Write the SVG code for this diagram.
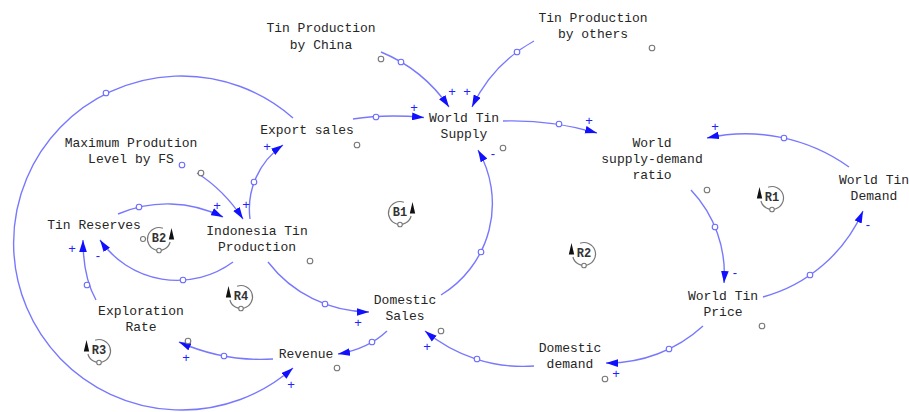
<svg xmlns="http://www.w3.org/2000/svg" width="909" height="412" viewBox="0 0 909 412">
<defs>
<style>
.t{font-family:"Liberation Mono","DejaVu Sans Mono",monospace;font-size:13px;fill:#262626;text-anchor:middle}
.c{fill:none;stroke:#7878ff;stroke-width:1.4;marker-end:url(#ah)}
.h{fill:#fff;stroke:#6b6bff;stroke-width:1.1}
.g{fill:#fff;stroke:#777;stroke-width:1.1}
.s{font-family:"Liberation Sans",Arial,sans-serif;font-size:13px;fill:#2222ff;text-anchor:middle}
.l{font-family:"Liberation Mono","DejaVu Sans Mono",monospace;font-size:12px;font-weight:bold;fill:#333;text-anchor:middle}
.la{fill:none;stroke:#777;stroke-width:1.2}
</style>
<marker id="ah" markerUnits="userSpaceOnUse" markerWidth="12" markerHeight="8" refX="11" refY="3.5" orient="auto" viewBox="0 0 11 7"><path d="M0,0 L11,3.5 L0,7 Z" fill="#1010ff"/></marker>
<g id="loopL">
<path class="la" d="M-11.1,3 A11.5,11.5 0 1 0 -3.9,-10.8"/>
<circle class="g" cx="0" cy="11.5" r="2.3"/>
<polygon points="-15.2,0.5 -9.8,0.5 -12.5,-11" fill="#111"/>
</g>
</defs>
<rect width="909" height="412" fill="#fff"/>

<g id="connectors">
<path class="c" d="M381,52 A153,153 0 0 1 449,107"/>
<path class="c" d="M534,41 A148,148 0 0 0 472,107"/>
<path class="c" d="M353,119 Q385,114 424,117.5"/>
<path class="c" d="M503,121 A302,302 0 0 1 597,133"/>
<path class="c" d="M441,295 A107,107 0 0 0 478,150"/>
<path class="c" d="M849,167 A178,178 0 0 0 707,138"/>
<path class="c" d="M691,190 A122,122 0 0 1 724,283"/>
<path class="c" d="M763,297 A153,153 0 0 0 863,211"/>
<path class="c" d="M703,326 A141,141 0 0 1 606,363"/>
<path class="c" d="M534,366 A153.5,153.5 0 0 1 425,331"/>
<path class="c" d="M387,331 Q368,349 338,354"/>
<path class="c" d="M273,359 A201,201 0 0 1 179,342"/>
<path class="c" d="M268,262 A128,128 0 0 0 369,312"/>
<path class="c" d="M233,262 A94,94 0 0 1 100,240"/>
<path class="c" d="M96,300 Q83,277 83,240"/>
<path class="c" d="M118,214 A125,125 0 0 1 223,217"/>
<path class="c" d="M197,173 Q224,190 243,219"/>
<path class="c" d="M250,219 A78,78 0 0 1 283,145"/>
<path class="c" d="M293,118 A168,167 0 1 0 293,368"/>
<circle class="h" cx="401" cy="62" r="2.8"/>
<circle class="h" cx="517" cy="52" r="2.8"/>
<circle class="h" cx="376" cy="117" r="2.8"/>
<circle class="h" cx="559" cy="124" r="2.8"/>
<circle class="h" cx="481" cy="252" r="2.8"/>
<circle class="h" cx="784" cy="138" r="2.8"/>
<circle class="h" cx="715" cy="227" r="2.8"/>
<circle class="h" cx="810" cy="275" r="2.8"/>
<circle class="h" cx="669" cy="349" r="2.8"/>
<circle class="h" cx="477" cy="359" r="2.8"/>
<circle class="h" cx="372" cy="342" r="2.8"/>
<circle class="h" cx="224" cy="356" r="2.8"/>
<circle class="h" cx="325" cy="304" r="2.8"/>
<circle class="h" cx="183" cy="280" r="2.8"/>
<circle class="h" cx="87" cy="285" r="2.8"/>
<circle class="h" cx="139" cy="207" r="2.8"/>
<circle class="h" cx="254" cy="182" r="2.8"/>
<circle class="h" cx="106" cy="93" r="2.8"/>
<circle class="h" cx="182" cy="165" r="2.8"/>
<text class="s" x="452" y="96">+</text>
<text class="s" x="467" y="96">+</text>
<text class="s" x="414" y="112">+</text>
<text class="s" x="589" y="125">+</text>
<text class="s" x="493" y="158">-</text>
<text class="s" x="715" y="131">+</text>
<text class="s" x="735" y="277">-</text>
<text class="s" x="868" y="229">-</text>
<text class="s" x="616" y="378">+</text>
<text class="s" x="427" y="351">+</text>
<text class="s" x="358" y="327">+</text>
<text class="s" x="186" y="362">+</text>
<text class="s" x="291" y="389">+</text>
<text class="s" x="72" y="253">+</text>
<text class="s" x="98" y="260">-</text>
<text class="s" x="217" y="210">+</text>
<text class="s" x="246" y="209">+</text>
<text class="s" x="267" y="151">+</text>
</g>

<g id="tin-production-china"><text class="t" x="321" y="32">Tin Production</text><text class="t" x="321" y="49">by China</text><circle class="g" cx="381" cy="59" r="2.8"/></g>
<g id="tin-production-others"><text class="t" x="593" y="22">Tin Production</text><text class="t" x="593" y="38">by others</text><circle class="g" cx="652" cy="48" r="2.8"/></g>
<g id="world-tin-supply"><text class="t" x="464" y="122">World Tin</text><text class="t" x="464" y="138">Supply</text><circle class="g" cx="503" cy="148" r="2.8"/></g>
<g id="export-sales"><text class="t" x="307" y="134">Export sales</text><circle class="g" cx="357" cy="145" r="2.8"/></g>
<g id="max-production"><text class="t" x="131" y="147">Maximum Prodution</text><text class="t" x="131" y="163">Level by FS</text><circle class="g" cx="201" cy="173" r="2.8"/></g>
<g id="tin-reserves"><text class="t" x="94" y="229">Tin Reserves</text></g>
<g id="indonesia-tin-production"><text class="t" x="257" y="235">Indonesia Tin</text><text class="t" x="257" y="251">Production</text><circle class="g" cx="310" cy="261" r="2.8"/></g>
<g id="exploration-rate"><text class="t" x="141" y="315">Exploration</text><text class="t" x="141" y="331">Rate</text><circle class="g" cx="188" cy="341" r="2.8"/></g>
<g id="revenue"><text class="t" x="306" y="358">Revenue</text><circle class="g" cx="337" cy="368" r="2.8"/></g>
<g id="domestic-sales"><text class="t" x="405" y="304">Domestic</text><text class="t" x="405" y="320">Sales</text><circle class="g" cx="441" cy="331" r="2.8"/></g>
<g id="domestic-demand"><text class="t" x="570" y="352">Domestic</text><text class="t" x="570" y="368">demand</text><circle class="g" cx="605" cy="379" r="2.8"/></g>
<g id="world-tin-price"><text class="t" x="723" y="300">World Tin</text><text class="t" x="723" y="316">Price</text><circle class="g" cx="762" cy="326" r="2.8"/></g>
<g id="supply-demand-ratio"><text class="t" x="652" y="147">World</text><text class="t" x="652" y="163">supply-demand</text><text class="t" x="652" y="179">ratio</text><circle class="g" cx="707" cy="190" r="2.8"/></g>
<g id="world-tin-demand"><text class="t" x="874" y="184">World Tin</text><text class="t" x="874" y="200">Demand</text></g>

<g id="loop-B1"><use href="#loopL" transform="translate(400,213) scale(-1,1)"/><text class="l" x="400" y="216">B1</text></g>
<g id="loop-R1"><use href="#loopL" transform="translate(772,198)"/><text class="l" x="772" y="201">R1</text></g>
<g id="loop-R2"><use href="#loopL" transform="translate(584,254)"/><text class="l" x="584" y="257">R2</text></g>
<g id="loop-B2"><use href="#loopL" transform="translate(159,239) scale(-1,1)"/><text class="l" x="159" y="242">B2</text><circle class="g" cx="143" cy="239" r="2.5"/></g>
<g id="loop-R4"><use href="#loopL" transform="translate(241,297)"/><text class="l" x="241" y="300">R4</text></g>
<g id="loop-R3"><use href="#loopL" transform="translate(99,351)"/><text class="l" x="99" y="354">R3</text></g>
</svg>
